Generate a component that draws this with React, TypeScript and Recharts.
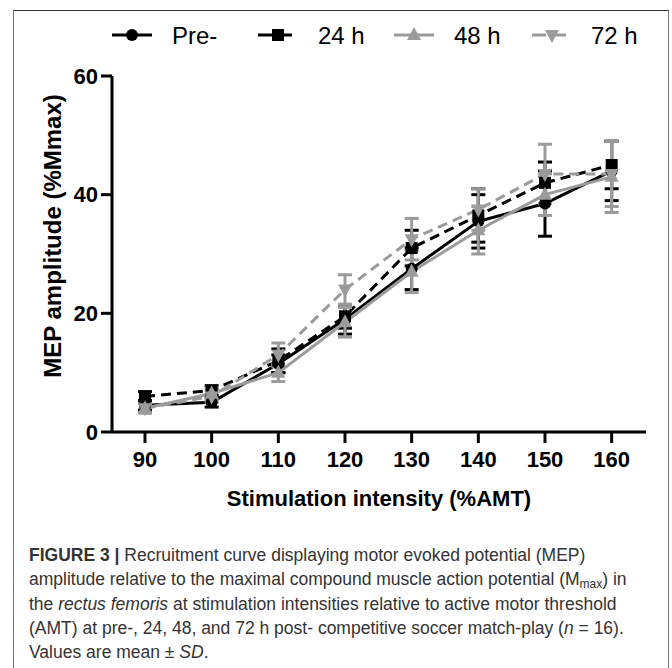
import React from 'react';
import { LineChart, Line, XAxis, YAxis, ErrorBar, Label } from 'recharts';

const intensities = [90, 100, 110, 120, 130, 140, 150, 160];

const preMean = [4.5, 5, 11.5, 19, 27.5, 35.5, 38.5, 44];
const preSd = [0.8, 0.8, 1.5, 2.5, 3.5, 4.5, 5.5, 5];
const h24Mean = [6, 7, 12, 19.5, 31, 36.5, 42, 45];
const h24Sd = [0.8, 0.8, 2, 2, 3, 4.5, 3.5, 4];
const h48Mean = [4, 6.5, 10, 18.5, 27, 34, 40, 43];
const h48Sd = [0.8, 1, 1.5, 2.5, 3.5, 4, 3.5, 6];
const h72Mean = [4, 6, 13, 24, 32.5, 37.5, 43.5, 43.5];
const h72Sd = [0.8, 1, 2, 2.5, 3.5, 3.5, 5, 5.5];

const yTicks = [0, 20, 40, 60];
const legendNames = ['Pre-', '24 h', '48 h', '72 h'];

const data = intensities.map((x, i) => ({
  x,
  pre: preMean[i],
  preSd: preSd[i],
  h24: h24Mean[i],
  h24Sd: h24Sd[i],
  h48: h48Mean[i],
  h48Sd: h48Sd[i],
  h72: h72Mean[i],
  h72Sd: h72Sd[i],
}));

const BLACK = '#000000';
const GRAY = '#9b9b9b';
const FONT = '"Liberation Sans", Arial, sans-serif';

const CircleDot = (p: any) => <circle key={p.index} cx={p.cx} cy={p.cy} r={6} fill={BLACK} />;
const SquareDot = (p: any) => <rect key={p.index} x={p.cx - 6} y={p.cy - 6} width={12} height={12} fill={BLACK} />;
const UpDot = (p: any) => (
  <polygon key={p.index} points={`${p.cx},${p.cy - 8} ${p.cx + 7},${p.cy + 5} ${p.cx - 7},${p.cy + 5}`} fill={GRAY} />
);
const DownDot = (p: any) => (
  <polygon key={p.index} points={`${p.cx},${p.cy + 8} ${p.cx + 7},${p.cy - 5} ${p.cx - 7},${p.cy - 5}`} fill={GRAY} />
);

// legend drawn by hand, GraphPad style
function LegendRow() {
  const items = [
    { lx: 112, tx: 172, color: BLACK, dash: undefined, mark: 'circle' },
    { lx: 258, tx: 318, color: BLACK, dash: '14 6', mark: 'square' },
    { lx: 394, tx: 454, color: GRAY, dash: undefined, mark: 'up' },
    { lx: 532, tx: 591, color: GRAY, dash: '14 6', mark: 'down' },
  ];
  return (
    <svg width={672} height={60} style={{ position: 'absolute', left: 0, top: 0 }}>
      {items.map((it, i) => {
        const cx = it.lx + 20;
        const cy = 35;
        return (
          <g key={i}>
            <line x1={it.lx} x2={it.lx + 40} y1={cy} y2={cy} stroke={it.color} strokeWidth={3} strokeDasharray={it.dash} />
            {it.mark === 'circle' && <circle cx={cx} cy={cy} r={6} fill={it.color} />}
            {it.mark === 'square' && <rect x={cx - 6} y={cy - 6} width={12} height={12} fill={it.color} />}
            {it.mark === 'up' && <polygon points={`${cx},${cy - 8} ${cx + 7},${cy + 5} ${cx - 7},${cy + 5}`} fill={it.color} />}
            {it.mark === 'down' && <polygon points={`${cx},${cy + 8} ${cx + 7},${cy - 5} ${cx - 7},${cy - 5}`} fill={it.color} />}
            <text x={it.tx} y={cy} dominantBaseline="central" fontFamily={FONT} fontSize={24} fill="#000">
              {legendNames[i]}
            </text>
          </g>
        );
      })}
    </svg>
  );
}

const XLabel = () => (
  <text x={379} y={498} textAnchor="middle" dominantBaseline="central" fontFamily={FONT} fontWeight="bold" fontSize={22} fill="#000">
    Stimulation intensity (%AMT)
  </text>
);

const YLabel = () => (
  <text x={52} y={236} transform="rotate(-90 52 236)" textAnchor="middle" dominantBaseline="central" fontFamily={FONT} fontWeight="bold" fontSize={24} fill="#000">
    MEP amplitude (%Mmax)
  </text>
);

export default function App() {
  const tickStyle = { fontFamily: FONT, fontWeight: 'bold', fontSize: 22, fill: '#000' };
  return (
    <div style={{ position: 'absolute', left: 0, top: 0, width: 672, height: 668, background: '#fff', overflow: 'hidden' }}>
      <div
        style={{
          position: 'absolute', left: 13, top: 10, width: 654, height: 700,
          borderLeft: '1.5px solid #777', borderTop: '1.5px solid #333', borderRight: '1.5px solid #777',
        }}
      />
      <LegendRow />
      <div style={{ position: 'absolute', left: 0, top: 0 }}>
        <LineChart width={672} height={540} data={data} margin={{ top: 76, right: 26, left: 12, bottom: 8 }}>
          <XAxis
            dataKey="x"
            type="number"
            domain={[85.05, 165.15]}
            ticks={intensities}
            allowDataOverflow
            height={100}
            tickSize={11}
            tickMargin={8}
            tick={tickStyle}
            stroke="#000"
            strokeWidth={3}
          >
            <Label content={<XLabel />} />
          </XAxis>
          <YAxis
            type="number"
            domain={[0, 60]}
            ticks={yTicks}
            width={100}
            tickSize={11}
            tickMargin={3}
            tick={tickStyle}
            stroke="#000"
            strokeWidth={3}
          >
            <Label content={<YLabel />} />
          </YAxis>
          <Line dataKey="pre" stroke={BLACK} strokeWidth={3} dot={CircleDot} isAnimationActive={false}>
            <ErrorBar dataKey="preSd" width={7} stroke={BLACK} strokeWidth={3} isAnimationActive={false} />
          </Line>
          <Line dataKey="h24" stroke={BLACK} strokeWidth={3} strokeDasharray="10 6" dot={SquareDot} isAnimationActive={false}>
            <ErrorBar dataKey="h24Sd" width={7} stroke={BLACK} strokeWidth={3} isAnimationActive={false} />
          </Line>
          <Line dataKey="h48" stroke={GRAY} strokeWidth={3} dot={UpDot} isAnimationActive={false}>
            <ErrorBar dataKey="h48Sd" width={7} stroke={GRAY} strokeWidth={3} isAnimationActive={false} />
          </Line>
          <Line dataKey="h72" stroke={GRAY} strokeWidth={3} strokeDasharray="10 6" dot={DownDot} isAnimationActive={false}>
            <ErrorBar dataKey="h72Sd" width={7} stroke={GRAY} strokeWidth={3} isAnimationActive={false} />
          </Line>
        </LineChart>
      </div>
      <div
        style={{
          position: 'absolute', left: 29, top: 543, width: 636,
          fontFamily: FONT, fontSize: 17.5, lineHeight: '24.3px', color: '#333', whiteSpace: 'nowrap',
        }}
      >
        <div><b>FIGURE 3 |</b> Recruitment curve displaying motor evoked potential (MEP)</div>
        <div>amplitude relative to the maximal compound muscle action potential (M<span style={{ fontSize: 12, lineHeight: 0, verticalAlign: '-0.25em' }}>max</span>) in</div>
        <div>the <i>rectus femoris</i> at stimulation intensities relative to active motor threshold</div>
        <div>(AMT) at pre-, 24, 48, and 72 h post- competitive soccer match-play (<i>n</i> = 16).</div>
        <div>Values are mean ± <i>SD</i>.</div>
      </div>
    </div>
  );
}
